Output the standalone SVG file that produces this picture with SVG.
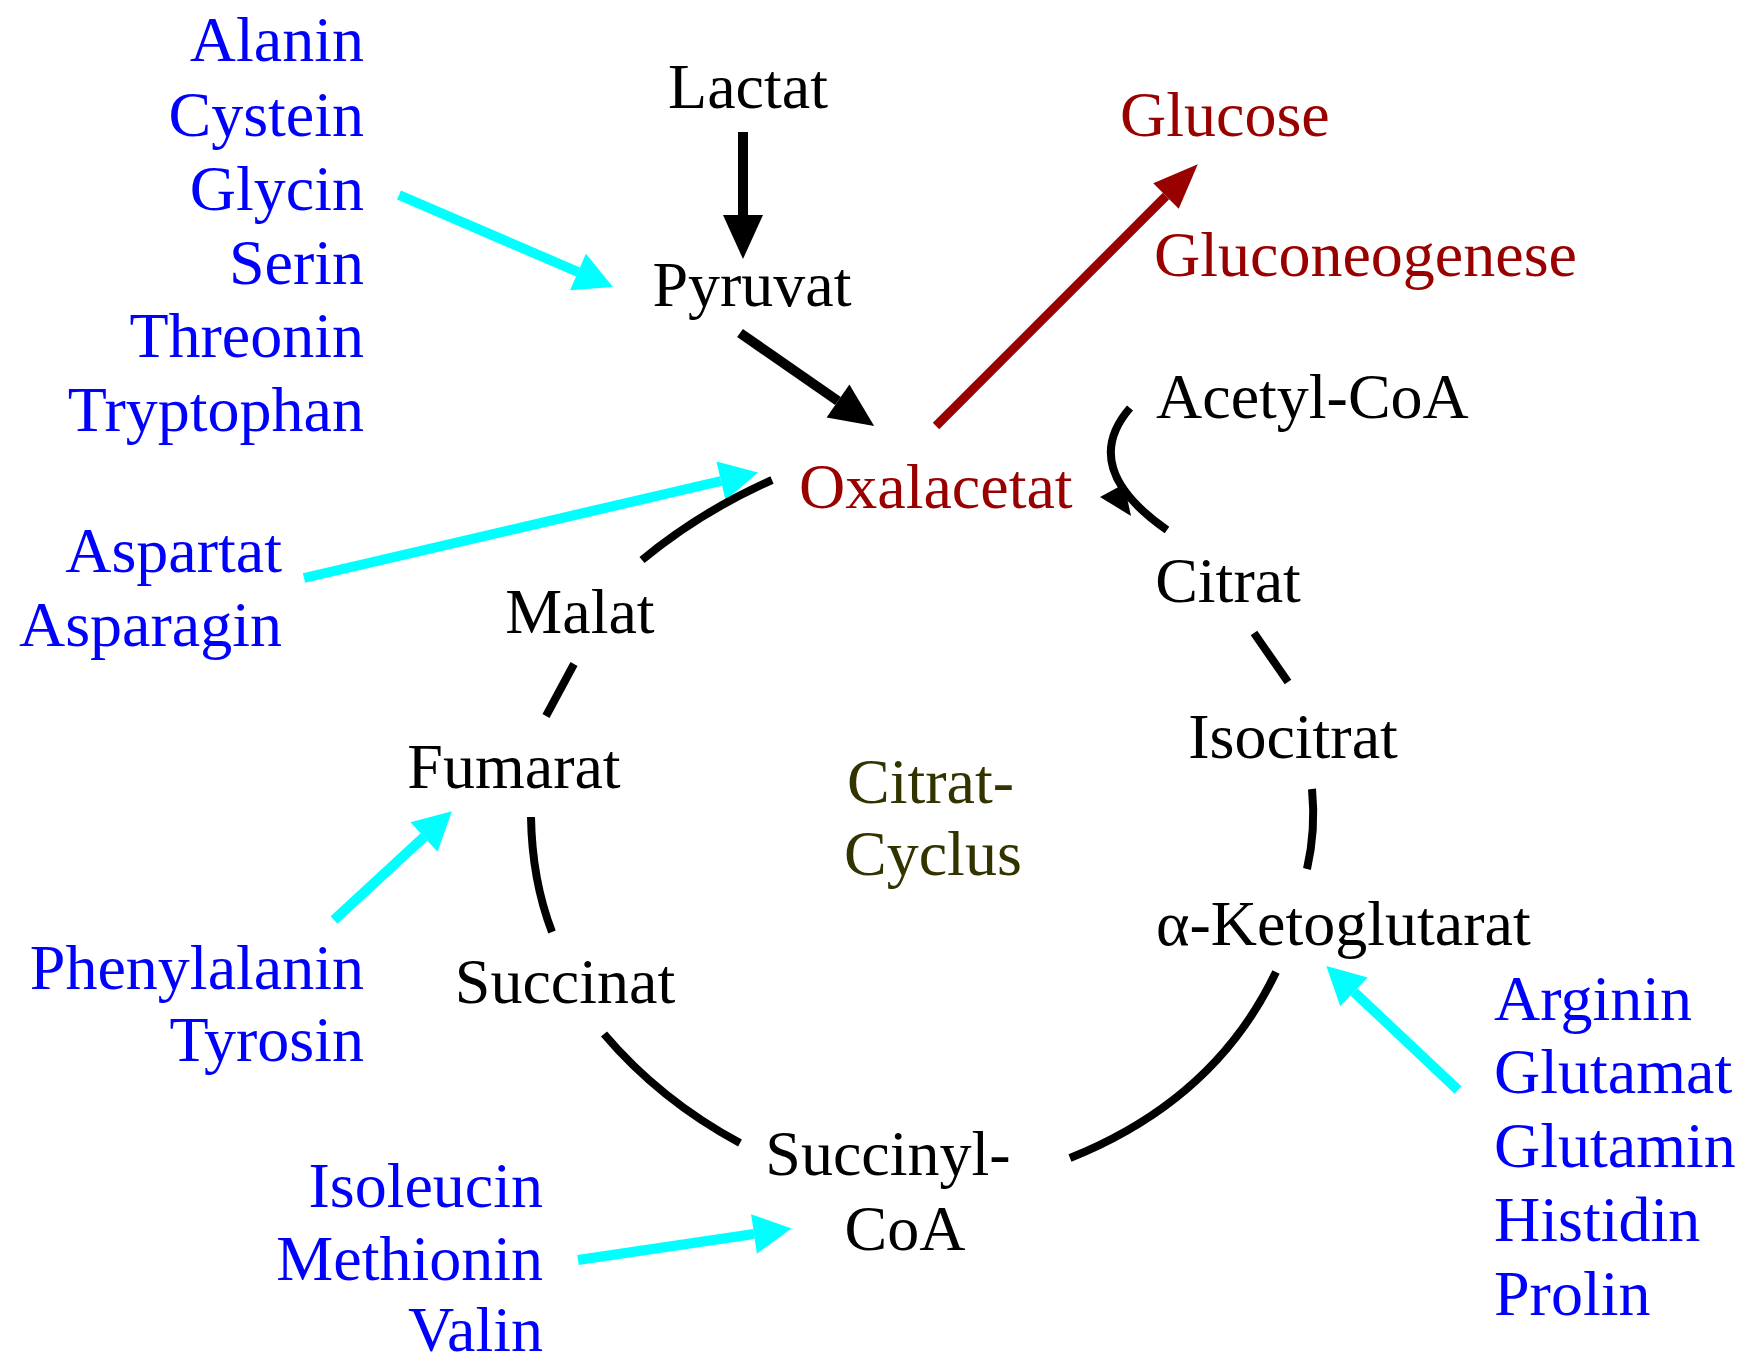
<svg xmlns="http://www.w3.org/2000/svg" width="1748" height="1367" viewBox="0 0 1748 1367">
<style>
text{font-family:"Liberation Serif","Times New Roman",serif;font-size:64px}
.k{fill:#000}
.b{fill:#0000ff}
.r{fill:#990000}
.o{fill:#333300}
.ln{fill:none;stroke-linecap:butt}
.blk{stroke:#000;stroke-width:10}
.cy{stroke:#00ffff;stroke-width:10}
.rd{stroke:#990000;stroke-width:9}
.cyc{fill:none;stroke:#000;stroke-width:8}
</style>
<defs>
<marker id="hk" markerUnits="userSpaceOnUse" markerWidth="50" markerHeight="50" refX="0" refY="20" orient="auto" overflow="visible"><path d="M0,0 L44,20 L0,40 Z" fill="#000"/></marker>
<marker id="hc" markerUnits="userSpaceOnUse" markerWidth="50" markerHeight="50" refX="0" refY="20" orient="auto" overflow="visible"><path d="M0,0 L38,20 L0,40 Z" fill="#00ffff"/></marker>
<marker id="hr" markerUnits="userSpaceOnUse" markerWidth="50" markerHeight="50" refX="0" refY="20" orient="auto" overflow="visible"><path d="M0,2 L45,20 L0,38 Z" fill="#990000"/></marker>
</defs>
<rect width="1748" height="1367" fill="#fff"/>
<g id="connectors">
<path class="ln blk" d="M743,132 L743,215" marker-end="url(#hk)"/>
<path class="ln blk" d="M740,333 L838,401" marker-end="url(#hk)"/>
<path class="ln cy" d="M399,195 L578,272" marker-end="url(#hc)"/>
<path class="ln rd" d="M936,426 L1166,196" marker-end="url(#hr)"/>
<path class="ln cy" d="M304,578 L721,481" marker-end="url(#hc)"/>
<path class="ln cy" d="M334,920 L424,837" marker-end="url(#hc)"/>
<path class="ln cy" d="M578,1260 L754,1234" marker-end="url(#hc)"/>
<path class="ln cy" d="M1458,1090 L1354,992" marker-end="url(#hc)"/>
<path class="cyc" d="M772,480 Q700,512 642,560"/>
<path class="cyc" d="M574,664 L546,716"/>
<path class="cyc" d="M531,817 Q532,880 552,932"/>
<path class="cyc" d="M604,1034 Q660,1100 740,1143"/>
<path class="cyc" d="M1070,1158 Q1215,1100 1276,972"/>
<path class="cyc" d="M1307,869 Q1316,830 1312,789"/>
<path class="cyc" d="M1288,682 L1254,633"/>
<path class="cyc" d="M1130,408 Q1078,468 1167,530"/>
<path d="M1100,497 L1124,484 L1131,516 Z" fill="#000"/>
</g>
<g id="lactat"><text class="k" x="748" y="108" text-anchor="middle">Lactat</text></g>
<g id="pyruvat"><text class="k" x="752" y="306" text-anchor="middle">Pyruvat</text></g>
<g id="glucose"><text class="r" x="1120" y="136">Glucose</text></g>
<g id="gluconeogenese"><text class="r" x="1154" y="276">Gluconeogenese</text></g>
<g id="acetylcoa"><text class="k" x="1156" y="418">Acetyl-CoA</text></g>
<g id="oxalacetat"><text class="r" x="799" y="508">Oxalacetat</text></g>
<g id="citrat"><text class="k" x="1228" y="602" text-anchor="middle">Citrat</text></g>
<g id="isocitrat"><text class="k" x="1293" y="758" text-anchor="middle">Isocitrat</text></g>
<g id="ketoglutarat"><text class="k" x="1156" y="945">α-Ketoglutarat</text></g>
<g id="succinylcoa"><text class="k" x="888" y="1175" text-anchor="middle">Succinyl-</text><text class="k" x="905" y="1250" text-anchor="middle">CoA</text></g>
<g id="succinat"><text class="k" x="565" y="1003" text-anchor="middle">Succinat</text></g>
<g id="fumarat"><text class="k" x="514" y="788" text-anchor="middle">Fumarat</text></g>
<g id="malat"><text class="k" x="580" y="633" text-anchor="middle">Malat</text></g>
<g id="cycle-label"><text class="o" x="847" y="803">Citrat-</text><text class="o" x="844" y="875">Cyclus</text></g>
<g id="aa-pyruvat" text-anchor="end">
<text class="b" x="364" y="61">Alanin</text>
<text class="b" x="364" y="136">Cystein</text>
<text class="b" x="364" y="210">Glycin</text>
<text class="b" x="364" y="284">Serin</text>
<text class="b" x="364" y="357">Threonin</text>
<text class="b" x="364" y="431">Tryptophan</text>
</g>
<g id="aa-oxalacetat" text-anchor="end">
<text class="b" x="282" y="572">Aspartat</text>
<text class="b" x="282" y="646">Asparagin</text>
</g>
<g id="aa-fumarat" text-anchor="end">
<text class="b" x="364" y="989">Phenylalanin</text>
<text class="b" x="364" y="1061">Tyrosin</text>
</g>
<g id="aa-succinylcoa" text-anchor="end">
<text class="b" x="543" y="1207">Isoleucin</text>
<text class="b" x="543" y="1280">Methionin</text>
<text class="b" x="543" y="1351">Valin</text>
</g>
<g id="aa-ketoglutarat">
<text class="b" x="1494" y="1020">Arginin</text>
<text class="b" x="1494" y="1093">Glutamat</text>
<text class="b" x="1494" y="1167">Glutamin</text>
<text class="b" x="1494" y="1241">Histidin</text>
<text class="b" x="1494" y="1315">Prolin</text>
</g>
</svg>
